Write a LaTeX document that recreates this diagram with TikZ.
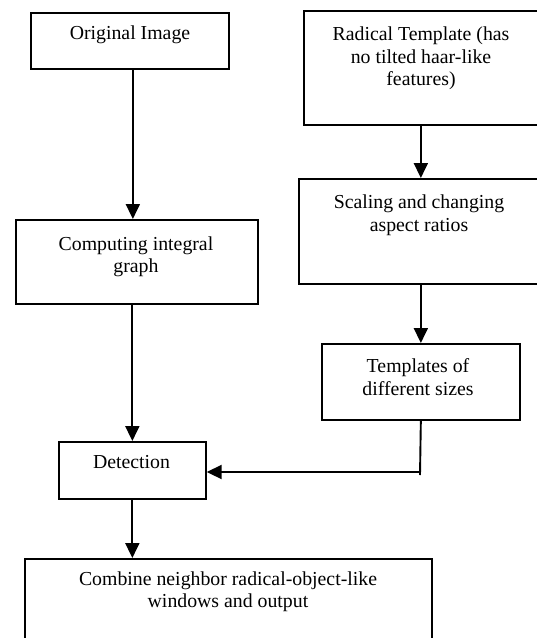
\documentclass[tikz,border=0pt]{standalone}
\usepackage{fontspec}
\setmainfont{Liberation Serif}
\usetikzlibrary{arrows.meta}
\begin{document}
\begin{tikzpicture}[x=1pt,y=-1pt,
  stage/.style={draw, line width=1.7pt, inner sep=0pt, anchor=north west},
  caption/.style={anchor=north, inner sep=0pt, align=center,
    font=\fontsize{19.8}{22.5}\selectfont},
  flow/.style={line width=1.9pt, -{Triangle[length=15pt,width=14pt]}},
  plain/.style={line width=1.9pt}]
\useasboundingbox (0,0) rectangle (537,638);

% boxes of the left column
\node[stage, minimum width=198pt, minimum height=56pt]  (orig)     at (30,12)  {};
\node[stage, minimum width=242pt, minimum height=84pt]  (integral) at (15,219) {};
\node[stage, minimum width=147pt, minimum height=57pt]  (detect)   at (58,441) {};
\node[stage, minimum width=407pt, minimum height=110pt] (combine)  at (24,558) {};

% boxes of the right column
\node[stage, minimum width=242pt, minimum height=114pt] (radical)  at (303,10)  {};
\node[stage, minimum width=247pt, minimum height=105pt] (scaling)  at (298,178) {};
\node[stage, minimum width=198pt, minimum height=76pt]  (sizes)    at (321,343) {};

% box captions
\node[caption] (origtext)     at (130,25.4)  {Original Image};
\node[caption] (integraltext) at (136,236.4) {Computing integral\\graph};
\node[caption] (detecttext)   at (131.5,455.5) {Detection};
\node[caption] (combinetext)  at (228,571.4) {Combine neighbor radical-object-like\\windows and output};
\node[caption] (radicaltext)  at (421,27)    {Radical Template (has\\no tilted haar-like\\features)};
\node[caption] (scalingtext)  at (419,194.6) {Scaling and changing\\aspect ratios};
\node[caption] (sizestext)    at (418,358.4) {Templates of\\different sizes};

% connectors
\draw[flow] ([xshift=3pt]orig.south) -- ([xshift=3pt]orig.south |- integral.north);
\draw[flow] (detect.north |- integral.south) -- (detect.north);
\draw[flow] (detect.south) -- (detect.south |- combine.north);
\draw[flow] (radical.south -| sizes.north) -- (scaling.north -| sizes.north);
\draw[flow] (scaling.south -| sizes.north) -- (sizes.north);
\coordinate (bend) at (420,472);
\draw[plain] (sizes.south) -- ([yshift=-3pt]bend);
\draw[flow] (bend) -- (bend -| detect.east);
\end{tikzpicture}
\end{document}
